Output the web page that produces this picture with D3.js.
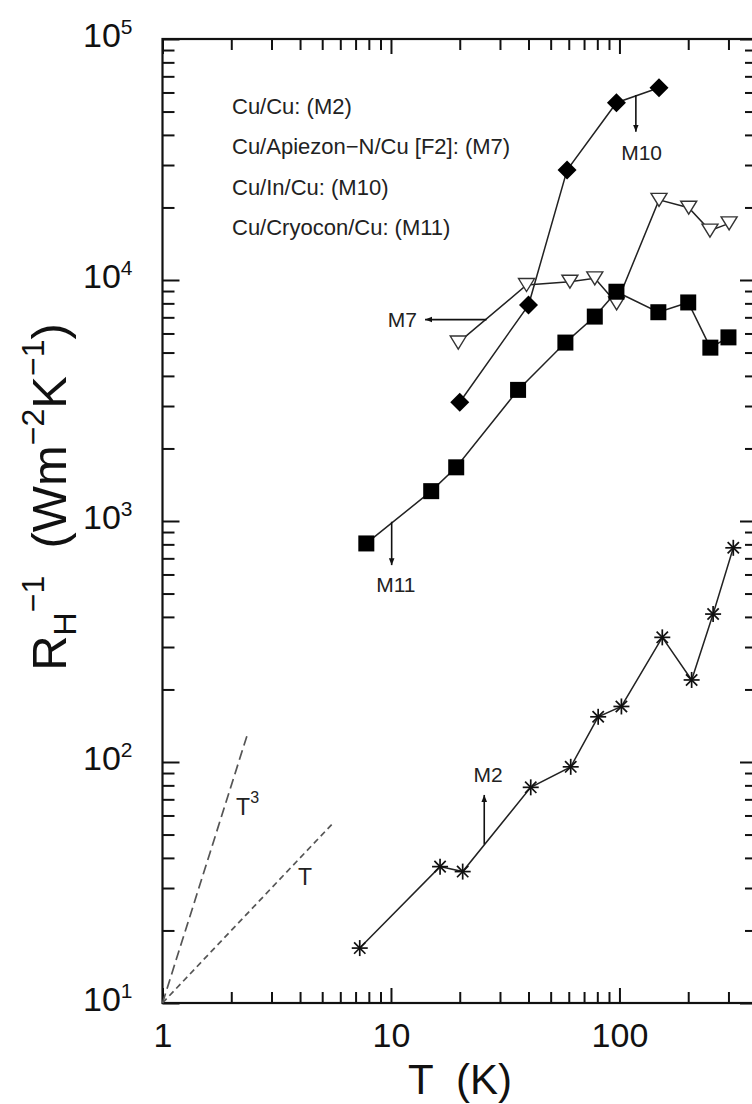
<!DOCTYPE html>
<html><head><meta charset="utf-8">
<script src="https://cdn.jsdelivr.net/npm/d3@7"></script>
<style>body{margin:0;background:#fff}svg{display:block}</style>
</head><body>
<svg id="c" width="752" height="1104"></svg>
<script>
// ---- data ----
const m2T  = [7.3, 16.4, 20.6, 40.9, 61.2, 80.7, 102, 154, 207, 257, 315];
const m2R  = [16.9, 36.8, 35.1, 78.5, 95.5, 154, 170, 329, 219, 411, 774];
const m7T  = [19.7, 39.2, 60.7, 78, 97.2, 149, 201, 249, 302];
const m7R  = [5500, 9530, 9840, 10160, 8000, 21500, 19950, 16030, 17180];
const m10T = [20, 40, 59, 97, 149];
const m10R = [3110, 7870, 28600, 54400, 62800];
const m11T = [7.8, 15, 19.3, 36, 58, 78, 97, 148, 200, 250, 300];
const m11R = [807, 1330, 1670, 3500, 5500, 7050, 8940, 7350, 8070, 5240, 5780];
const guideT3 = [[1, 10], [2.34, 128]];
const guideT1 = [[1, 10], [5.5, 55]];
const xMajor = [1, 10, 100];
const xMajorLabels = ["1", "10", "100"];
const yExps = [1, 2, 3, 4, 5];
const legendLabels = ["Cu/Cu: (M2)", "Cu/Apiezon\u2212N/Cu [F2]: (M7)", "Cu/In/Cu: (M10)", "Cu/Cryocon/Cu: (M11)"];
// annotations: [label, arrowFrom(T,R), arrowTo(T,R), labelPos(T,R), anchor]
const annotations = [
  ["M10", [118, 58500], [118, 41200], [125, 33650], "middle"],
  ["M7",  [26.2, 6850], [14.1, 6850], [13.0, 6850], "end"],
  ["M11", [10.07, 993], [10.07, 656], [10.5, 542], "middle"],
  ["M2",  [25.6, 45.5], [25.6, 73], [26.6, 88.3], "middle"]
];

const svg = d3.select("#c");
const font = "'Liberation Sans', Arial, Helvetica, sans-serif";
const x = d3.scaleLog().domain([1, 400]).range([162.5, 757]);
const y = d3.scaleLog().domain([10, 1e5]).range([1003, 39]);
const X0 = x.range()[0], X1 = x.range()[1], Y0 = y.range()[0], Y1 = y.range()[1];

// minor ticks
const xMinor = [];
for (let e = 0; e < 3; e++) for (let k = 2; k <= 9; k++) { const v = k * Math.pow(10, e); if (v < 400) xMinor.push(v); }
const yMinor = [];
for (let e = 1; e < 5; e++) for (let k = 2; k <= 9; k++) yMinor.push(k * Math.pow(10, e));

function styleAxis(g) {
  g.select(".domain").remove();
  g.selectAll(".tick line").attr("stroke", "#111").attr("stroke-width", 2);
}
// bottom
svg.append("g").attr("transform", `translate(0,${Y0})`)
  .call(d3.axisBottom(x).tickValues(xMinor).tickSize(-11).tickFormat("")).call(styleAxis);
svg.append("g").attr("transform", `translate(0,${Y0})`)
  .call(d3.axisBottom(x).tickValues(xMajor).tickSize(-15).tickPadding(20)
    .tickFormat((d, i) => xMajorLabels[i])).call(styleAxis)
  .selectAll("text").attr("font-family", font).attr("font-size", 34).attr("fill", "#111");
// top
svg.append("g").attr("transform", `translate(0,${Y1})`)
  .call(d3.axisTop(x).tickValues(xMinor).tickSize(-11).tickFormat("")).call(styleAxis);
svg.append("g").attr("transform", `translate(0,${Y1})`)
  .call(d3.axisTop(x).tickValues(xMajor).tickSize(-15).tickFormat("")).call(styleAxis);
// left
svg.append("g").attr("transform", `translate(${X0},0)`)
  .call(d3.axisLeft(y).tickValues(yMinor).tickSize(-12).tickFormat("")).call(styleAxis);
svg.append("g").attr("transform", `translate(${X0},0)`)
  .call(d3.axisLeft(y).tickValues(yExps.map(e => Math.pow(10, e))).tickSize(-17).tickFormat("")).call(styleAxis);
// right
svg.append("g").attr("transform", `translate(${X1},0)`)
  .call(d3.axisRight(y).tickValues(yMinor).tickSize(-12).tickFormat("")).call(styleAxis);
svg.append("g").attr("transform", `translate(${X1},0)`)
  .call(d3.axisRight(y).tickValues(yExps.map(e => Math.pow(10, e))).tickSize(-17).tickFormat("")).call(styleAxis);

// frame
svg.append("rect").attr("x", X0).attr("y", Y1).attr("width", X1 - X0).attr("height", Y0 - Y1)
  .attr("fill", "none").attr("stroke", "#111").attr("stroke-width", 2.2);

// y tick labels 10^n
yExps.forEach(e => {
  const t = svg.append("text").attr("x", X0 - 30).attr("y", y(Math.pow(10, e)) + 8)
    .attr("text-anchor", "end").attr("font-family", font).attr("font-size", 34).attr("fill", "#111");
  t.append("tspan").text("10");
  t.append("tspan").attr("font-size", 21).attr("dy", -13).text(String(e));
});

// axis titles
svg.append("text").attr("x", 460).attr("y", 1094).attr("text-anchor", "middle")
  .attr("font-family", font).attr("font-size", 42).attr("fill", "#111")
  .attr("xml:space", "preserve").text("T  (K)");
const yt = svg.append("text").attr("transform", "translate(66,497) rotate(-90)")
  .attr("text-anchor", "middle").attr("font-family", font).attr("font-size", 49).attr("fill", "#111")
  .attr("xml:space", "preserve");
yt.append("tspan").text("R");
yt.append("tspan").attr("font-size", 32).attr("dy", 10).text("H");
yt.append("tspan").attr("font-size", 32).attr("dy", -32).text("\u22121");
yt.append("tspan").attr("dy", 22).text("  (Wm");
yt.append("tspan").attr("font-size", 32).attr("dy", -22).text("\u22122");
yt.append("tspan").attr("dy", 22).text("K");
yt.append("tspan").attr("font-size", 32).attr("dy", -22).text("\u22121");
yt.append("tspan").attr("dy", 22).text(")");

// legend (text only)
legendLabels.forEach((s, i) => {
  svg.append("text").attr("x", 232).attr("y", 114 + i * 40.3)
    .attr("font-family", font).attr("font-size", 22).attr("fill", "#222").text(s);
});

// guide lines
const line = d3.line().x(d => x(d[0])).y(d => y(d[1]));
svg.append("path").attr("d", line(guideT3)).attr("fill", "none").attr("stroke", "#555")
  .attr("stroke-width", 1.7).attr("stroke-dasharray", "10,5");
svg.append("path").attr("d", line(guideT1)).attr("fill", "none").attr("stroke", "#555")
  .attr("stroke-width", 1.7).attr("stroke-dasharray", "6,4");
const t3 = svg.append("text").attr("x", x(2.10)).attr("y", y(60.3))
  .attr("font-family", font).attr("font-size", 23).attr("fill", "#222");
t3.append("tspan").text("T");
t3.append("tspan").attr("font-size", 16).attr("dy", -12).text("3");
svg.append("text").attr("x", x(3.92)).attr("y", y(30.9))
  .attr("font-family", font).attr("font-size", 23).attr("fill", "#222").text("T");

// series lines
const zip = (a, b) => a.map((v, i) => [v, b[i]]);
const series = [
  {pts: zip(m2T, m2R), sym: "star"},
  {pts: zip(m7T, m7R), sym: "tri"},
  {pts: zip(m10T, m10R), sym: "diamond"},
  {pts: zip(m11T, m11R), sym: "square"}
];
series.forEach(s => {
  svg.append("path").attr("d", line(s.pts)).attr("fill", "none")
    .attr("stroke", "#222").attr("stroke-width", 1.5);
});

// markers
function drawMarker(g, sym, cx, cy) {
  if (sym === "square") {
    g.append("rect").attr("x", cx - 8).attr("y", cy - 8).attr("width", 16).attr("height", 16).attr("fill", "#000");
  } else if (sym === "diamond") {
    const r = 9.5;
    g.append("path").attr("d", `M${cx},${cy - r}L${cx + r},${cy}L${cx},${cy + r}L${cx - r},${cy}Z`).attr("fill", "#000");
  } else if (sym === "tri") {
    const w = 8, h = 13;
    g.append("path").attr("d", `M${cx - w},${cy - h / 2}L${cx + w},${cy - h / 2}L${cx},${cy + h / 2}Z`)
      .attr("fill", "#fff").attr("stroke", "#333").attr("stroke-width", 1.4);
  } else if (sym === "star") {
    const r = 8;
    for (let k = 0; k < 4; k++) {
      const a = k * Math.PI / 4;
      g.append("line").attr("x1", cx - r * Math.cos(a)).attr("y1", cy - r * Math.sin(a))
        .attr("x2", cx + r * Math.cos(a)).attr("y2", cy + r * Math.sin(a))
        .attr("stroke", "#111").attr("stroke-width", 1.7);
    }
  }
}
series.forEach(s => {
  const g = svg.append("g");
  s.pts.forEach(p => drawMarker(g, s.sym, x(p[0]), y(p[1])));
});

// arrows
svg.append("defs").append("marker").attr("id", "ah").attr("viewBox", "0 0 10 10")
  .attr("refX", 10).attr("refY", 5).attr("markerWidth", 7).attr("markerHeight", 7)
  .attr("markerUnits", "userSpaceOnUse").attr("orient", "auto")
  .append("path").attr("d", "M0,1L10,5L0,9Z").attr("fill", "#111");
annotations.forEach(a => {
  svg.append("line").attr("x1", x(a[1][0])).attr("y1", y(a[1][1]))
    .attr("x2", x(a[2][0])).attr("y2", y(a[2][1]))
    .attr("stroke", "#111").attr("stroke-width", 1.6).attr("marker-end", "url(#ah)");
  svg.append("text").attr("x", x(a[3][0])).attr("y", y(a[3][1])).attr("dy", "0.35em")
    .attr("text-anchor", a[4]).attr("font-family", font).attr("font-size", 21).attr("fill", "#222").text(a[0]);
});
</script>
</body></html>
